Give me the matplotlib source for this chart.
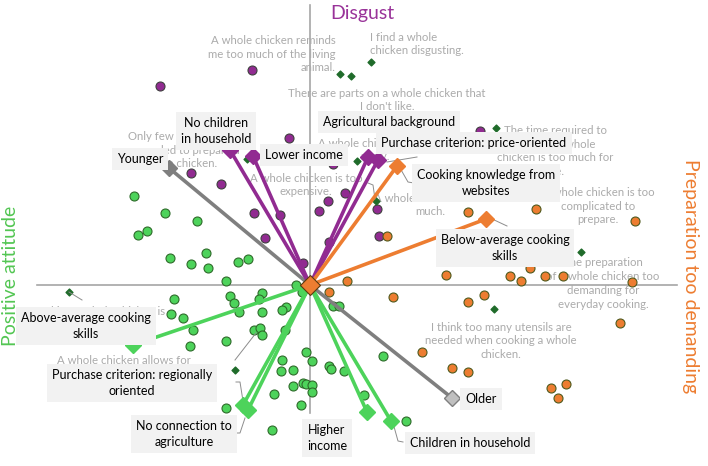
import numpy as np
import matplotlib.pyplot as plt

plt.rcParams['font.family'] = ['Lato', 'DejaVu Sans']

# respondent scores (factor space)
purple_x = [-0.58, -1.50, -0.21, -1.19, -0.89, 0.23, 0.35, 0.18, 0.09, -0.56, -0.30, -0.45, -0.07, 0.67, 0.69, 0.19, 1.70]
purple_y = [2.15, 1.99, 1.47, 1.12, 1.01, 1.21, 0.92, 0.84, 0.74, 0.72, 0.70, 0.47, 0.22, 0.76, 0.49, 0.43, 1.54]

orange_x = [1.58, 2.26, 3.25, 0.77, 1.36, 0.37, 0.19, 2.00, 2.11, 2.35, 2.53, 3.22, 2.20, 0.83, 1.58, 1.74, 3.10, 1.12, 1.42, 1.58, 2.41, 2.56, 2.48]
orange_y = [0.73, 0.76, 0.64, 0.49, 0.10, 0.04, -0.07, 0.09, 0.04, 0.09, 0.09, 0.03, 0.17, -0.12, -0.17, -0.10, -0.38, -0.67, -0.83, -0.87, -1.03, -0.99, -1.13]

green_x = [-1.76, -1.45, -1.13, -1.63, -1.72, -1.40, -1.19, -1.04, -1.02, -0.72, -0.62, -0.84, -0.14, -0.08,
           -0.80, -0.76, -0.48, -0.51, -1.36, -1.39, -1.27, -0.71, -0.48, -0.24, -0.28, -1.17, -1.20, -0.84,
           -0.56, -0.50, -0.48, -0.25, -0.04, 0.02, -0.28, -0.29, -0.17, 0.19, 0.21, 0.34, -0.07, -0.04, 0.02,
           -0.17, 0.02, -0.36, -0.09, -0.84, -0.38, 0.23, 0.29, 0.73, 0.54, 0.96]
green_y = [0.89, 0.72, 0.64, 0.54, 0.50, 0.27, 0.21, 0.32, 0.17, 0.23, 0.26, 0.04, 0.00, -0.07,
           -0.11, -0.18, -0.08, -0.14, -0.14, -0.29, -0.33, -0.27, -0.27, -0.22, -0.25, -0.45, -0.61, -0.56,
           -0.45, -0.43, -0.50, -0.45, -0.67, -0.76, -0.75, -0.86, -0.85, -0.81, -0.84, -0.86, -0.98, -0.99, -1.00,
           -1.01, -1.07, -1.09, -1.20, -1.23, -1.45, -0.21, -0.21, -0.71, -1.10, -1.36]

# statement loadings
stmt_x = [0.30, 0.41, 0.61, -0.63, 0.47, 0.66, 1.86, 2.71, 1.84, -2.41, -0.75]
stmt_y = [2.11, 2.09, 2.23, 1.26, 1.24, 0.84, 1.57, 0.33, -0.24, -0.07, -0.85]

statements = [
    ("A whole chicken reminds\nme too much of the living\nanimal.", 0.26, 2.31, 'right'),
    ("I find a whole\nchicken disgusting.", 0.60, 2.41, 'left'),
    ("There are parts on a whole chicken that\nI don't like.", 0.77, 1.85, 'center'),
    ("Only few ingredients\nare needed to prepare a\nwhole chicken.", -1.30, 1.35, 'center'),
    ("A whole chicken is too\nexpensive.", -0.04, 1.00, 'center'),
    ("A whole chicken tastes\nnasty.", 0.65, 1.35, 'center'),
    ("The time required to\nprepare a whole\nchicken is too much for\nme.", 2.45, 1.34, 'center'),
    ("A whole chicken is too\nmuch.", 1.20, 0.80, 'center'),
    ("A whole chicken is too\ncomplicated to\nprepare.", 2.88, 0.79, 'center'),
    ("The preparation\nof a whole chicken too\ndemanding for\neveryday cooking.", 2.93, 0.015, 'center'),
    ("I think too many utensils are\nneeded when cooking a whole\nchicken.", 1.91, -0.56, 'center'),
    ("A whole chicken allows for\nvaried meals.", -1.86, -0.82, 'center'),
    ("Making a whole chicken is\neasy for me.", -2.10, -0.33, 'center'),
]

# supplementary variables: name, end x, end y, colour, label x, label y
vec_names = ["Younger", "Older", "No children\nin household", "Lower income", "Agricultural background",
             "Purchase criterion: price-oriented", "Cooking knowledge from\nwebsites",
             "Below-average cooking\nskills", "Above-average cooking\nskills",
             "Purchase criterion: regionally\noriented", "No connection to\nagriculture",
             "Higher\nincome", "Children in household"]
vec_x = [-1.41, 1.42, -0.80, -0.57, 0.58, 0.68, 0.87, 1.76, -1.77, -0.67, -0.62, 0.57, 0.81]
vec_y = [1.17, -1.13, 1.35, 1.29, 1.28, 1.25, 1.19, 0.66, -0.60, -1.20, -1.25, -1.27, -1.36]
vec_col = ['grey', 'grey', 'purple', 'purple', 'purple', 'purple', 'orange', 'orange',
           'green', 'green', 'green', 'green', 'green']
lab_x = [-1.70, 1.71, -0.94, -0.06, 0.79, 1.64, 1.76, 1.95, -2.24, -1.78, -1.26, 0.17, 1.60]
lab_y = [1.26, -1.14, 1.54, 1.30, 1.63, 1.42, 1.02, 0.37, -0.41, -0.98, -1.49, -1.53, -1.58]

# leader lines (label -> marker)
leaders = [
    ([0.77, 1.07], [1.23, 1.28]),
    ([0.90, 0.98, 1.04], [1.17, 1.03, 1.02]),
    ([1.80, 1.97], [0.67, 0.59]),
    ([0.58, 0.63, 0.65], [1.02, 1.00, 0.86]),
    ([-0.74, -0.70, -0.67], [-0.97, -0.97, -1.16]),
    ([-0.73, -0.70, -0.65], [-1.48, -1.48, -1.33]),
    ([0.83, 0.88, 0.93], [-1.38, -1.56, -1.57]),
    ([-2.41, -2.28], [-0.07, -0.15]),
    ([-0.75, -0.54], [-0.75, -0.48]),
]

colors = {'purple': '#912B91', 'orange': '#ED7D31', 'green': '#4DD35B', 'grey': '#7F7F7F'}

fig = plt.figure(figsize=(7.08, 4.66), dpi=100)
ax = fig.add_axes([0, 0, 1, 1])
ax.set_xlim(-3.10, 3.98)
ax.set_ylim(-1.81, 2.85)
ax.axis('off')

# axes cross
ax.plot([-2.73, 3.67], [0, 0], color='#A6A6A6', lw=1.2, zorder=1)
ax.plot([0, 0], [-1.28, 2.80], color='#A6A6A6', lw=1.2, zorder=1)

for txt, x, y, ha in statements:
    ax.text(x, y, txt, ha=ha, va='center', fontsize=8.2, color='#ABABAB',
            linespacing=1.3, zorder=2)

ax.scatter(purple_x, purple_y, s=42, color='#912B91', edgecolor='#3F3F3F', lw=0.8, zorder=3)
ax.scatter(orange_x, orange_y, s=42, color='#ED7D31', edgecolor='#4F5A1E', lw=0.8, zorder=3)
ax.scatter(green_x, green_y, s=42, color='#4DD35B', edgecolor='#2E6B2A', lw=0.8, zorder=3)
ax.scatter(stmt_x, stmt_y, s=12, marker='D', color='#1F6B2A', zorder=3)

for lx, ly in leaders:
    ax.plot(lx, ly, color='#8C8C8C', lw=0.7, zorder=4)

for i, name in enumerate(vec_names):
    c = colors[vec_col[i]]
    mfc = '#C0C0C0' if name == "Older" else c
    ax.plot([0, vec_x[i]], [0, vec_y[i]], color=c, lw=2.6, zorder=5, solid_capstyle='butt')
    ax.plot(vec_x[i], vec_y[i], marker='D', ms=8, color=mfc,
            mec='#7F7F7F' if name == "Older" else c, zorder=5)
    ax.text(lab_x[i], lab_y[i], name, ha='center', va='center', fontsize=9.0, color='black',
            linespacing=1.35, zorder=7,
            bbox=dict(boxstyle='square,pad=0.4', fc='#F2F2F2', ec='none'))

ax.plot(0, 0, marker='D', ms=10, color='#ED7D31', mec='#5A3A10', mew=0.8, zorder=6)

ax.text(0.52, 2.72, "Disgust", ha='center', va='center', fontsize=14, color='#993399')
ax.text(-2.99, 0.09, "Positive attitude", ha='center', va='center', fontsize=14,
        color='#53C653', rotation=90, zorder=8)
ax.text(3.80, 0.09, "Preparation too demanding", ha='center', va='center', fontsize=14,
        color='#ED7D31', rotation=-90)

plt.savefig('out.png', dpi=100)
